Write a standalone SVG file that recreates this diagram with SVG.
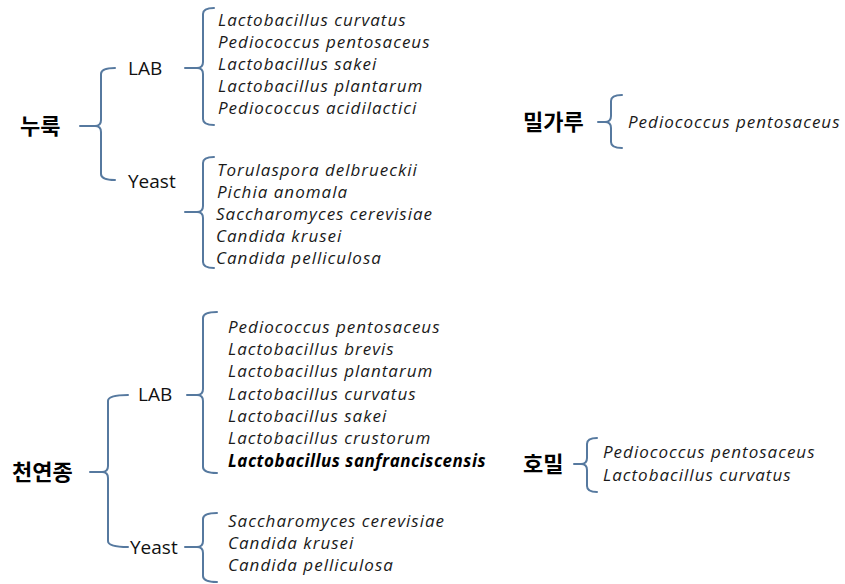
<svg xmlns="http://www.w3.org/2000/svg" width="845" height="584" viewBox="0 0 845 584">
<style>
.br{fill:none;stroke:#56799f;stroke-width:2;stroke-linecap:round;stroke-linejoin:round}
.ko{font-family:"Noto Sans CJK KR","Noto Sans",sans-serif;font-weight:bold;font-size:22px;fill:#000}
.cat{font-family:"Open Sans","Liberation Sans",sans-serif;font-size:19px;fill:#111}
.sp{font-family:"Open Sans","Liberation Sans",sans-serif;font-style:italic;font-size:17px;letter-spacing:1px;fill:#1a1a1a}
.b{font-weight:bold;letter-spacing:0.5px;fill:#000}
</style>
<rect width="845" height="584" fill="#fff"/>
<g id="connectors">
<path class="br" d="M115,68 Q101,68 101,74 V120 Q101,126 95,126 L80,126 M95,126 Q101,126 101,132 V174 Q101,180 115,180"/>
<path class="br" d="M214,8 Q203,8 203,14 V62 Q203,68 197,68 L185,68 M197,68 Q203,68 203,74 V119 Q203,125 214,125"/>
<path class="br" d="M214,157 Q203,157 203,163 V206 Q203,212 197,212 L185,212 M197,212 Q203,212 203,218 V262 Q203,268 214,268"/>
<path class="br" d="M128,395 Q108,395 108,401 V466 Q108,472 102,472 L90,472 M102,472 Q108,472 108,478 V541 Q108,547 128,547"/>
<path class="br" d="M217,312 Q203,312 203,318 V389 Q203,395 197,395 L187,395 M197,395 Q203,395 203,401 V467 Q203,473 217,473"/>
<path class="br" d="M217,513 Q203,513 203,519 V541 Q203,547 197,547 L185,547 M197,547 Q203,547 203,553 V576 Q203,582 217,582"/>
<path class="br" d="M622,95 Q611,95 611,101 V116 Q611,122 605,122 L598,122 M605,122 Q611,122 611,128 V142 Q611,148 622,148"/>
<path class="br" d="M597,438 Q587,438 587,444 V458 Q587,464 581,464 L574,464 M581,464 Q587,464 587,470 V486 Q587,492 597,492"/>
</g>
<g id="nuruk"><text class="ko" x="20" y="134">누룩</text></g>
<g id="nuruk-lab"><text class="cat" x="128" y="75">LAB</text></g>
<g id="nuruk-yeast"><text class="cat" x="128" y="188">Yeast</text></g>
<g id="nuruk-lab-species">
<text class="sp" x="218" y="26">Lactobacillus curvatus</text>
<text class="sp" x="218" y="48">Pediococcus pentosaceus</text>
<text class="sp" x="218" y="70">Lactobacillus sakei</text>
<text class="sp" x="218" y="92">Lactobacillus plantarum</text>
<text class="sp" x="218" y="114">Pediococcus acidilactici</text>
</g>
<g id="nuruk-yeast-species">
<text class="sp" x="217" y="176">Torulaspora delbrueckii</text>
<text class="sp" x="217" y="198">Pichia anomala</text>
<text class="sp" x="216" y="220">Saccharomyces cerevisiae</text>
<text class="sp" x="216" y="242">Candida krusei</text>
<text class="sp" x="216" y="264">Candida pelliculosa</text>
</g>
<g id="cheonyeonjong"><text class="ko" x="12" y="480">천연종</text></g>
<g id="cy-lab"><text class="cat" x="138" y="401">LAB</text></g>
<g id="cy-yeast"><text class="cat" x="130" y="554">Yeast</text></g>
<g id="cy-lab-species">
<text class="sp" x="228" y="333">Pediococcus pentosaceus</text>
<text class="sp" x="228" y="355">Lactobacillus brevis</text>
<text class="sp" x="228" y="377">Lactobacillus plantarum</text>
<text class="sp" x="228" y="400">Lactobacillus curvatus</text>
<text class="sp" x="228" y="422">Lactobacillus sakei</text>
<text class="sp" x="228" y="444">Lactobacillus crustorum</text>
<text class="sp b" x="228" y="467">Lactobacillus sanfranciscensis</text>
</g>
<g id="cy-yeast-species">
<text class="sp" x="228" y="527">Saccharomyces cerevisiae</text>
<text class="sp" x="228" y="549">Candida krusei</text>
<text class="sp" x="228" y="571">Candida pelliculosa</text>
</g>
<g id="milgaru"><text class="ko" x="523" y="130">밀가루</text></g>
<g id="milgaru-species"><text class="sp" x="628" y="128">Pediococcus pentosaceus</text></g>
<g id="homil"><text class="ko" x="523" y="472">호밀</text></g>
<g id="homil-species">
<text class="sp" x="603" y="458">Pediococcus pentosaceus</text>
<text class="sp" x="603" y="481">Lactobacillus curvatus</text>
</g>
</svg>
